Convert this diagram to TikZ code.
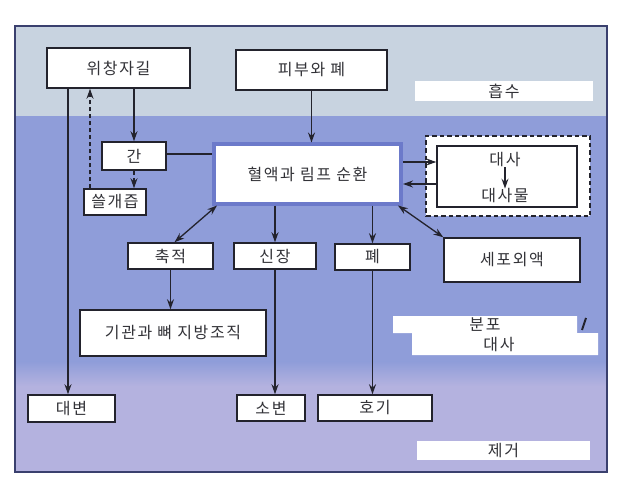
\documentclass[tikz,border=0pt]{standalone}
\usepackage{fontspec}
\setmainfont[LetterSpace=10]{Noto Sans CJK KR}
\usetikzlibrary{arrows.meta}
\definecolor{topband}{RGB}{200,211,224}
\definecolor{midband}{RGB}{143,157,217}
\definecolor{botband}{RGB}{180,178,223}
\definecolor{framec}{RGB}{58,64,110}
\definecolor{bloodborder}{RGB}{108,122,202}
\definecolor{ink}{RGB}{35,35,45}
\definecolor{txt}{RGB}{50,50,55}
\tikzset{
  box/.style={draw=ink, line width=1.5pt, fill=white, inner sep=0pt,
    font=\fontsize{16}{18}\selectfont, text=txt},
  lab/.style={fill=white, inner sep=0pt, font=\fontsize{16}{18}\selectfont, text=txt},
  plain/.style={inner sep=0pt, font=\fontsize{16}{18}\selectfont, text=txt},
  tip/.tip={Stealth[length=10pt,width=7pt,inset=3.5pt]},
  conn/.style={draw=ink, line width=1.3pt},
  arr/.style={conn, -tip},
  darr/.style={conn, tip-tip},
  dashline/.style={conn, dashed, dash pattern=on 4pt off 3pt},
}
\begin{document}
\begin{tikzpicture}[x=1pt,y=-1pt]
\useasboundingbox[fill=white] (0,0) rectangle (620,497);
% bands
\fill[topband] (15,26) rectangle (607,116);
\fill[midband] (15,116) rectangle (607,362);
\shade[top color=midband, bottom color=botband] (15,361.5) rectangle (607,386);
\fill[botband] (15,385.5) rectangle (607,472);
\draw[framec, line width=2.5pt] (15,26) rectangle (607,472);

% labels on the right
\node[lab, minimum width=178pt, minimum height=20pt] (absorb) at (504,91) {흡수};
\node[lab, minimum width=173pt, minimum height=19pt] (remove) at (503.5,450.5) {제거};
\fill[white] (393,316) -- (577,316) -- (577,333) -- (598,333) -- (598,355) -- (412,355) -- (412,333) -- (393,333) -- cycle;
\node[plain] (distr) at (485,325) {분포};
\node[plain] (metab2) at (499,345) {대사};
\draw[ink, line width=2pt] (582,330) -- (586,318);

% boxes
\node[box, minimum width=143pt, minimum height=40pt] (gut) at (118.5,68) {위창자길};
\node[box, minimum width=151pt, minimum height=40pt] (skin) at (311.5,70) {피부와 폐};
\node[box, minimum width=64pt, minimum height=28pt] (liver) at (134,156) {간};
\node[box, minimum width=62pt, minimum height=26pt] (bile) at (115,202) {쓸개즙};
\node[box, draw=bloodborder, line width=4pt, minimum width=187pt, minimum height=59pt] (blood) at (307.5,174) {혈액과 림프 순환};
\node[box, dashed, dash pattern=on 4.5pt off 3pt, line width=1.3pt, minimum width=164pt, minimum height=80pt] (dash) at (508,176) {};
\node[box, minimum width=140pt, minimum height=61pt] (met) at (507,176.5) {};
\node[plain] (met1) at (505,160) {대사};
\node[plain] (met2) at (505,196) {대사물};
\node[box, minimum width=85pt, minimum height=26pt] (acc) at (170.5,256) {축적};
\node[box, minimum width=82pt, minimum height=26pt] (kid) at (275,256) {신장};
\node[box, minimum width=75pt, minimum height=26pt] (lung) at (372.5,257) {폐};
\node[box, minimum width=136pt, minimum height=44pt] (ecf) at (512,260) {세포외액};
\node[box, minimum width=186pt, minimum height=46pt] (organs) at (173,333) {기관과 뼈 지방조직};
\node[box, minimum width=87pt, minimum height=27pt] (feces) at (71.5,408.5) {대변};
\node[box, minimum width=68pt, minimum height=26pt] (urine) at (271,408) {소변};
\node[box, minimum width=114pt, minimum height=26pt] (breath) at (375,408) {호기};

% connectors
\draw[arr] ([xshift=-50.5pt]gut.south) -- ([xshift=-50.5pt]gut.south |- feces.north);
\draw[arr] (gut.south -| liver.north) -- (liver.north);
\draw[dashline, -tip] (liver.south) -- (liver.south |- bile.north);
\draw[dashline, -tip] ([xshift=-25pt]bile.north) -- ([xshift=-25pt]bile.north |- gut.south);
\draw[conn] ([yshift=2pt]liver.east) -- ([yshift=2pt]liver.east -| blood.west);
\draw[arr] (skin.south) -- (skin.south |- blood.north);
\draw[arr] ([yshift=12pt]blood.east) -- ([yshift=12pt]blood.east -| met.west);
\draw[arr] ([yshift=-10pt]blood.east -| met.west) -- ([yshift=-10pt]blood.east);
\draw[arr] (met1) -- (met2);
\draw[darr] ([xshift=5pt]blood.south west) -- ([xshift=4pt]acc.north);
\draw[arr] (blood.south -| kid.north) -- (kid.north);
\draw[arr] (blood.south -| lung.north) -- (lung.north);
\draw[darr] ([xshift=-5pt]blood.south east) -- (ecf.north west);
\draw[arr] (acc.south) -- (acc.south |- organs.north);
\draw[arr] (kid.south) -- (kid.south |- urine.north);
\draw[arr] (lung.south) -- (lung.south |- breath.north);
\end{tikzpicture}
\end{document}
